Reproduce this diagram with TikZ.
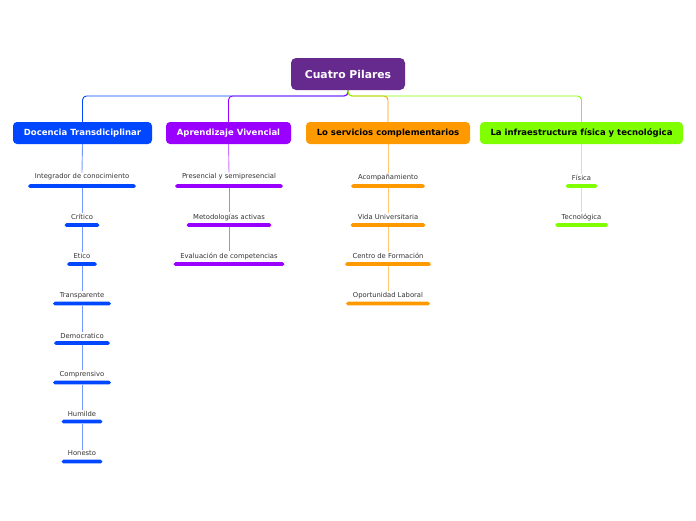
\documentclass[tikz,border=0pt]{standalone}
\usepackage{fontspec}
\setmainfont{DejaVu Sans}
\definecolor{rootc}{HTML}{662A8F}
\definecolor{cblue}{HTML}{0047FF}
\definecolor{cpurple}{HTML}{9900FF}
\definecolor{corange}{HTML}{FF9900}
\definecolor{cgreen}{HTML}{80FF00}
\definecolor{txt}{HTML}{333333}
\tikzset{
  rootbox/.style={fill=rootc, text=white, font=\fontsize{10.8}{12}\selectfont\bfseries, rounded corners=5pt, minimum width=114pt, minimum height=32pt, inner sep=0pt},
  branch/.style={fill=#1, rounded corners=4pt, minimum height=22pt, inner sep=0pt, font=\fontsize{8.5}{10}\selectfont\bfseries},
  lbl/.style={font=\fontsize{6.8}{8}\selectfont, text=txt, inner sep=1pt},
  bar/.style={fill=#1, rounded corners=1.8pt, minimum height=3.6pt, inner sep=0pt, draw=none},
  topline/.style={draw=#1, line width=0.9pt, rounded corners=4pt},
  subline/.style={draw=#1, draw opacity=0.55, line width=0.9pt},
}
\begin{document}
\begin{tikzpicture}[x=1pt,y=-1pt]
\useasboundingbox[fill=white] (0,0) rectangle (696,520);
% root
\node[rootbox] (root) at (348,74) {Cuatro Pilares};
% branches
\node[branch=cblue, text=white, minimum width=139pt] (d) at (82.5,133) {Docencia Transdiciplinar};
\node[branch=cpurple, text=white, minimum width=125pt] (a) at (228.5,133) {Aprendizaje Vivencial};
\node[branch=corange, text=black, minimum width=164pt] (s) at (388,133) {Lo servicios complementarios};
\node[branch=cgreen, text=black, minimum width=203pt] (i) at (581.5,133) {La infraestructura física y tecnológica};
\coordinate (j) at (348,96);
\draw[topline=cblue] (root.south) -- (j) -| (d.north);
\draw[topline=cpurple] (root.south) -- (j) -| (a.north);
\draw[topline=corange] (root.south) -- (j) -| (s.north);
\draw[topline=cgreen] (root.south) -- (j) -| (i.north);
% blue column
\node[lbl] (d1) at (82,177) {Integrador de conocimiento};
\node[bar=cblue, minimum width=108pt] (d1b) at (82,186) {};
\node[lbl] (d2) at (82,217) {Crítico};
\node[bar=cblue, minimum width=35pt] (d2b) at (82,225) {};
\node[lbl] (d3) at (82,256) {Etico};
\node[bar=cblue, minimum width=30pt] (d3b) at (82,264) {};
\node[lbl] (d4) at (82,295.5) {Transparente};
\node[bar=cblue, minimum width=58pt] (d4b) at (82,303.5) {};
\node[lbl] (d5) at (82,335.5) {Democratico};
\node[bar=cblue, minimum width=56pt] (d5b) at (82,343) {};
\node[lbl] (d6) at (82,374.5) {Comprensivo};
\node[bar=cblue, minimum width=58pt] (d6b) at (82,382.5) {};
\node[lbl] (d7) at (82,413.5) {Humilde};
\node[bar=cblue, minimum width=41pt] (d7b) at (82,421.5) {};
\node[lbl] (d8) at (82,453.5) {Honesto};
\node[bar=cblue, minimum width=41pt] (d8b) at (82,461.5) {};
\draw[subline=cblue] (d.south) -- (d1.north);
\draw[subline=cblue] (d1b.south) -- (d2.north);
\draw[subline=cblue] (d2b.south) -- (d3.north);
\draw[subline=cblue] (d3b.south) -- (d4.north);
\draw[subline=cblue] (d4b.south) -- (d5.north);
\draw[subline=cblue] (d5b.south) -- (d6.north);
\draw[subline=cblue] (d6b.south) -- (d7.north);
\draw[subline=cblue] (d7b.south) -- (d8.north);
% purple column
\node[lbl] (a1) at (229,177) {Presencial y semipresencial};
\node[bar=cpurple, minimum width=108pt] (a1b) at (229,186) {};
\node[lbl] (a2) at (229,217) {Metodologías activas};
\node[bar=cpurple, minimum width=85pt] (a2b) at (229,225) {};
\node[lbl] (a3) at (229,256) {Evaluación de competencias};
\node[bar=cpurple, minimum width=111pt] (a3b) at (229,264) {};
\draw[subline=cpurple] (a.south) -- (a1.north);
\draw[subline=cpurple] (a1b.south) -- (a2.north);
\draw[subline=cpurple] (a2b.south) -- (a3.north);
% orange column
\node[lbl] (s1) at (388,178) {Acompañamiento};
\node[bar=corange, minimum width=74pt] (s1b) at (388,186) {};
\node[lbl] (s2) at (388,217) {Vida Universitaria};
\node[bar=corange, minimum width=75pt] (s2b) at (388,225) {};
\node[lbl] (s3) at (388,256) {Centro de Formación};
\node[bar=corange, minimum width=86pt] (s3b) at (388,264) {};
\node[lbl] (s4) at (388,295.5) {Oportunidad Laboral};
\node[bar=corange, minimum width=84pt] (s4b) at (388,303.5) {};
\draw[subline=corange] (s.south) -- (s1.north);
\draw[subline=corange] (s1b.south) -- (s2.north);
\draw[subline=corange] (s2b.south) -- (s3.north);
\draw[subline=corange] (s3b.south) -- (s4.north);
% green column
\node[lbl] (i1) at (581.5,178) {Física};
\node[bar=cgreen, minimum width=32pt] (i1b) at (581.5,186) {};
\node[lbl] (i2) at (581.5,217) {Tecnológica};
\node[bar=cgreen, minimum width=53pt] (i2b) at (581.5,225) {};
\draw[subline=cgreen] (i.south) -- (i1.north);
\draw[subline=cgreen] (i1b.south) -- (i2.north);
\end{tikzpicture}
\end{document}
